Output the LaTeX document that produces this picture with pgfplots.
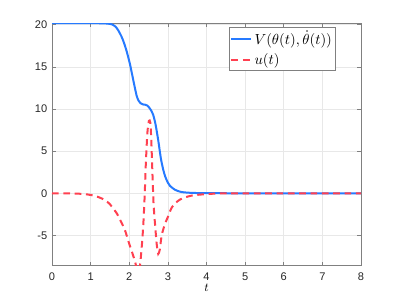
\documentclass[border=0pt]{standalone}
\usepackage{fontspec}
\setmainfont{Liberation Sans}
\usepackage{pgfplots}
\pgfplotsset{compat=1.18}
\definecolor{vblue}{RGB}{38,122,255}
\definecolor{ured}{RGB}{255,64,80}
\definecolor{axgray}{RGB}{128,128,128}
\definecolor{ticktext}{RGB}{38,38,38}
\begin{document}
\begin{tikzpicture}
\useasboundingbox (-39pt,-25pt) rectangle (260.25pt,199.3pt);
\begin{axis}[
  scale only axis,
  width=231.75pt, height=182pt,
  xmin=0, xmax=8, ymin=-8.6, ymax=20.2,
  xtick={0,1,...,8}, ytick={-5,0,5,10,15,20},
  grid=major,
  major grid style={draw=black!9, line width=0.4pt},
  axis line style={draw=axgray, line width=0.5pt},
  tick style={draw=axgray, line width=0.5pt},
  tick align=inside,
  major tick length=3pt,
  /pgf/number format/assume math mode=true,
  tick label style={font=\fontsize{8.3}{9}\selectfont, text=ticktext},
  xticklabel style={yshift=-1.5pt},
  xlabel={$t$},
  xlabel style={font=\fontsize{9.5}{10}\selectfont, yshift=4pt},
  legend style={at={(0.919,0.985)}, anchor=north east, draw=axgray, fill=white,
    font=\fontsize{10.5}{12}\selectfont, inner sep=0.8pt, row sep=1.5pt, line width=0.5pt},
  legend cell align=left,
  legend image post style={xscale=0.85},
]
\addplot[vblue, line width=1.5pt, smooth, tension=0.4] coordinates {
(0,20.2) (0.6,20.2) (1.2,20.18) (1.4,20.15) (1.55,20.05) (1.65,19.75) (1.72,19.3)
(1.8,18.6) (1.86,17.9) (1.93,16.9) (2.02,15.3) (2.11,13.3) (2.19,11.6) (2.24,11.0)
(2.29,10.7) (2.35,10.55) (2.42,10.5) (2.47,10.4) (2.52,10.15) (2.57,9.8)
(2.62,9.3) (2.68,8.2) (2.75,6.3) (2.82,4.1) (2.88,2.8) (2.93,2.0) (3.0,1.25)
(3.06,0.85) (3.19,0.4) (3.35,0.15) (3.6,0.05) (4,0.01) (5,0) (8,0)
};
\addlegendentry{$V(\theta(t),\dot{\theta}(t))$}
\addplot[ured, line width=1.5pt, dash pattern=on 5pt off 3.5pt, smooth, tension=0.4] coordinates {
(0,0) (0.5,-0.02) (0.8,-0.08) (1.0,-0.2) (1.2,-0.45) (1.37,-0.8) (1.5,-1.3) (1.6,-1.9)
(1.68,-2.4) (1.78,-3.3) (1.89,-4.4) (2.0,-6.0) (2.08,-7.1) (2.15,-8.1) (2.19,-8.9)
(2.23,-9.3) (2.27,-8.9) (2.30,-7.6) (2.34,-5.4) (2.37,-3.2) (2.40,-0.2) (2.43,3.6)
(2.47,7.2) (2.51,8.6) (2.545,8.4) (2.57,6.4) (2.60,2.4) (2.63,-1.3) (2.67,-3.8)
(2.71,-6.0) (2.75,-7.2) (2.79,-6.7) (2.84,-5.0) (2.92,-3.7) (3.01,-2.7) (3.1,-1.7)
(3.25,-0.95) (3.4,-0.55) (3.66,-0.24) (4.0,-0.1) (4.3,-0.03) (5,0) (8,0)
};
\addlegendentry{$u(t)$}
\end{axis}
\end{tikzpicture}
\end{document}
